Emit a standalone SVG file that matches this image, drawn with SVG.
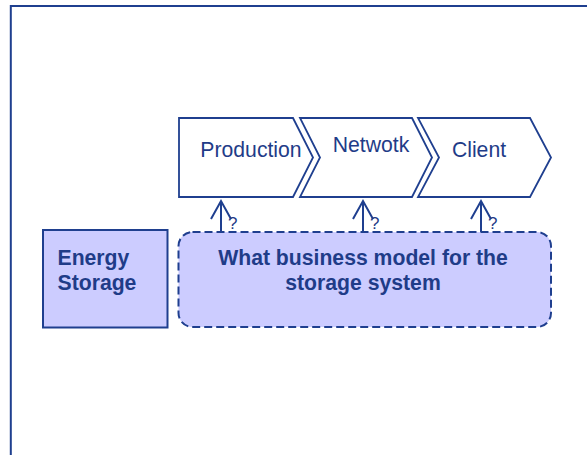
<svg xmlns="http://www.w3.org/2000/svg" width="587" height="455" viewBox="0 0 587 455">
<style>
.frame{fill:none;stroke:#1f3f8f;stroke-width:2}
.chev{fill:#ffffff;stroke:#1f3f8f;stroke-width:1.8;stroke-linejoin:miter}
.lbl{font-family:"Liberation Sans",Arial,sans-serif;font-size:21.2px;fill:#1f3c88}
.bold{font-family:"Liberation Sans",Arial,sans-serif;font-size:21.2px;font-weight:bold;fill:#1f3c88}
.q{font-family:"Liberation Sans",Arial,sans-serif;font-size:17px;fill:#1f3c88}
.conn{fill:none;stroke:#1f3f8f;stroke-width:2}
</style>
<rect width="587" height="455" fill="#ffffff"/>
<path class="frame" d="M10.8,455 V6 H587"/>
<g id="production">
<path class="chev" d="M179,118 H293 L313,157.5 L293,197 H179 Z"/>
<text class="lbl" x="251" y="157" text-anchor="middle">Production</text>
</g>
<g id="network">
<path class="chev" d="M300,118 H412 L432,157.5 L412,197 H300 L320,157.5 Z"/>
<text class="lbl" x="371" y="152" text-anchor="middle">Netwotk</text>
</g>
<g id="client">
<path class="chev" d="M418,118 H530 L551,157.5 L530,197 H418 L439,157.5 Z"/>
<text class="lbl" x="479" y="157" text-anchor="middle">Client</text>
</g>
<g id="energy-storage">
<rect x="43" y="230" width="124.5" height="97.5" fill="#ccccff" stroke="#1f3f8f" stroke-width="2"/>
<text class="bold" x="57.5" y="264.5">Energy</text>
<text class="bold" x="57.5" y="289.5">Storage</text>
</g>
<g id="business-model">
<rect x="178.5" y="232" width="372.5" height="95" rx="14" ry="14" fill="#ccccff" stroke="#1f3f8f" stroke-width="2" stroke-dasharray="8,4"/>
<text class="bold" x="363" y="264.5" text-anchor="middle">What business model for the</text>
<text class="bold" x="363" y="289.5" text-anchor="middle">storage system</text>
</g>
<g id="connectors">
<path class="conn" d="M221,232 V201 M211,219 L221,201 L231,219"/>
<path class="conn" d="M363,232 V201 M353,219 L363,201 L373,219"/>
<path class="conn" d="M481,232 V201 M471,219 L481,201 L491,219"/>
<text class="q" x="228" y="228.5">?</text>
<text class="q" x="370" y="228.5">?</text>
<text class="q" x="488" y="228.5">?</text>
</g>
</svg>
